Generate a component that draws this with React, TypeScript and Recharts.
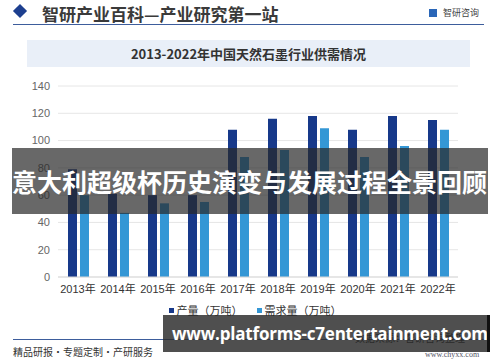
import { BarChart, Bar, XAxis, YAxis, CartesianGrid } from "recharts";

const years = ["2013年", "2014年", "2015年", "2016年", "2017年", "2018年", "2019年", "2020年", "2021年", "2022年"];
const production = [79, 61, 60, 60, 108, 116, 118, 108, 118, 115];
const demand = [60, 47, 54, 55, 88, 93, 109, 88, 96, 108];
const yTicks = [0, 20, 40, 60, 80, 100, 120, 140];

const seriesNames = ["产量（万吨）", "需求量（万吨）"];
const colors = ["#17398a", "#3497d5"];

const data = years.map((year, i) => ({
  year,
  production: production[i],
  demand: demand[i],
}));

const font = "'Liberation Sans', 'Noto Sans CJK SC', sans-serif";

const App = () => {
  return (
    <div
      style={{
        position: "absolute",
        top: 0,
        left: 0,
        width: 500,
        height: 362,
        background: "#fff",
        overflow: "hidden",
        fontFamily: font,
      }}
    >
      {/* header */}
      <div
        style={{
          position: "absolute",
          left: 15,
          top: 6,
          width: 10,
          height: 10,
          background: "#1d3f8f",
          transform: "rotate(45deg)",
        }}
      />
      <div
        style={{
          position: "absolute",
          left: 42,
          top: 1,
          fontSize: 17,
          fontWeight: 700,
          color: "#3a3a3a",
          fontFamily: "'Noto Sans CJK SC', sans-serif",
          whiteSpace: "nowrap",
        }}
      >
        智研产业百科—产业研究第一站
      </div>
      <div
        style={{
          position: "absolute",
          left: 429,
          top: 9,
          width: 8,
          height: 8,
          background: "#2a66b8",
        }}
      />
      <div
        style={{
          position: "absolute",
          left: 443,
          top: 6,
          fontSize: 9,
          color: "#444",
          fontFamily: "'Noto Sans CJK SC', sans-serif",
        }}
      >
        智研咨询
      </div>
      <div style={{ position: "absolute", left: 13, top: 24, width: 471, height: 1, background: "#3d5d9c" }} />

      {/* chart title */}
      <div
        style={{
          position: "absolute",
          left: 27,
          top: 40,
          width: 443,
          height: 27,
          background: "#e9eff8",
          display: "flex",
          alignItems: "center",
          justifyContent: "center",
          fontSize: 13,
          fontWeight: 700,
          color: "#333",
          fontFamily: "'Noto Sans CJK SC', serif",
        }}
      >
        2013-2022年中国天然石墨行业供需情况
      </div>

      <div style={{ position: "absolute", left: 0, top: 0 }}>
        <BarChart
          width={500}
          height={362}
          data={data}
          margin={{ top: 86, right: 42, bottom: 55, left: 0 }}
          barSize={9}
          barGap={3}
        >
          <CartesianGrid vertical={false} stroke="#e6e6e6" />
          <XAxis
            dataKey="year"
            height={30}
            tickLine={false}
            axisLine={{ stroke: "#d9d9d9" }}
            tick={{ fontSize: 11, fill: "#333", fontFamily: font }}
            interval={0}
          />
          <YAxis
            width={58}
            domain={[0, 140]}
            ticks={yTicks}
            tickLine={false}
            axisLine={false}
            tick={{ fontSize: 11, fill: "#666", fontFamily: font }}
          />
          <Bar dataKey="production" name={seriesNames[0]} fill={colors[0]} isAnimationActive={false} />
          <Bar dataKey="demand" name={seriesNames[1]} fill={colors[1]} isAnimationActive={false} />
        </BarChart>
      </div>

      {/* legend */}
      <div
        style={{
          position: "absolute",
          left: 5,
          top: 302,
          width: 500,
          display: "flex",
          justifyContent: "center",
          gap: 14,
          fontSize: 11,
          color: "#333",
          fontFamily: "'Noto Sans CJK SC', sans-serif",
        }}
      >
        {seriesNames.map((name, i) => (
          <div key={name} style={{ display: "flex", alignItems: "center" }}>
            <span style={{ width: 5, height: 5, background: colors[i], marginRight: 3 }} />
            {name}
          </div>
        ))}
      </div>

      {/* footer */}
      <div style={{ position: "absolute", left: 13, top: 339, width: 472, height: 1, background: "#3d5d9c" }} />
      <div
        style={{
          position: "absolute",
          left: 13,
          top: 344,
          fontSize: 10,
          color: "#333",
          fontFamily: "'Noto Sans CJK SC', sans-serif",
          whiteSpace: "nowrap",
        }}
      >
        精品研报・专题定制・产研服务
      </div>
      <div
        style={{
          position: "absolute",
          left: 355,
          top: 330,
          fontSize: 10,
          color: "#333",
          fontFamily: "'Noto Sans CJK SC', sans-serif",
          whiteSpace: "nowrap",
        }}
      >
        数据来源：智研咨询整理
      </div>
      <div
        style={{
          position: "absolute",
          left: 425,
          top: 350,
          fontSize: 8,
          color: "#556",
          fontFamily: "'Liberation Serif', serif",
          whiteSpace: "nowrap",
        }}
      >
        www.chyxx.com
      </div>

      {/* overlay banners */}
      <div
        style={{
          position: "absolute",
          left: 12,
          top: 148,
          width: 476,
          height: 66,
          background: "rgba(40,40,40,0.7)",
          display: "flex",
          alignItems: "center",
          color: "#fff",
          fontSize: 25,
          fontWeight: 700,
          fontFamily: "'Noto Sans CJK SC', sans-serif",
          whiteSpace: "nowrap",
          overflow: "hidden",
        }}
      >
        意大利超级杯历史演变与发展过程全景回顾
      </div>
      <div
        style={{
          position: "absolute",
          left: 163,
          top: 315,
          width: 327,
          height: 37,
          background: "rgba(40,40,40,0.82)",
          borderRight: "3px solid #111",
          display: "flex",
          alignItems: "center",
          paddingLeft: 9,
          boxSizing: "border-box",
          color: "#fff",
          fontSize: 17,
          fontWeight: 700,
          letterSpacing: -0.2,
          fontFamily: "'Open Sans', sans-serif",
          whiteSpace: "nowrap",
          overflow: "hidden",
        }}
      >
        www.platforms-c7entertainment.com
      </div>
    </div>
  );
};

export default App;
